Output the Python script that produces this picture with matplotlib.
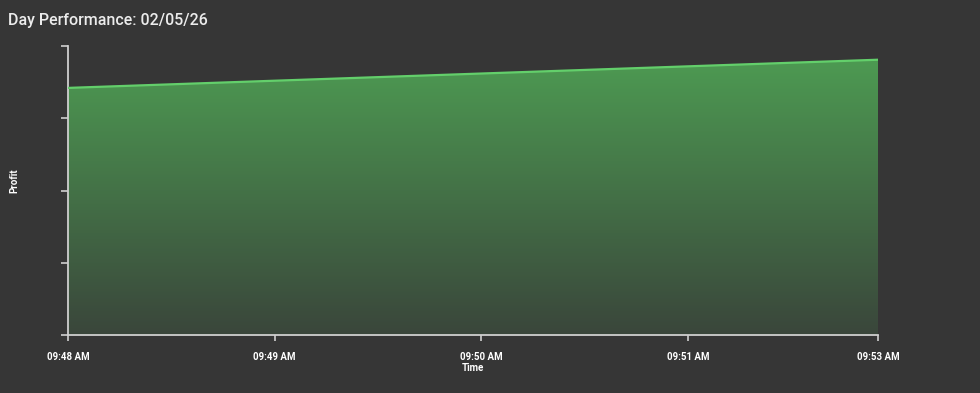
import matplotlib
matplotlib.use("Agg")
import matplotlib.pyplot as plt
import numpy as np
from matplotlib.patches import Polygon
from matplotlib.colors import LinearSegmentedColormap

plt.rcParams['font.family'] = ['Roboto', 'DejaVu Sans']

# Data (minutes after 09:48 AM)
time_minutes = [0.0, 3.92]
profit = [3.42, 3.81]
x_tick_positions = [0, 1, 2, 3, 3.92]
x_tick_labels = ["09:48 AM", "09:49 AM", "09:50 AM", "09:51 AM", "09:53 AM"]
y_ticks = [0, 1, 2, 3, 4]

BG = "#363636"
fig = plt.figure(figsize=(9.8, 3.93), dpi=100, facecolor=BG)
ax = fig.add_axes([68/980, 1-335/393, (878-68)/980, (335-46)/393])
ax.set_facecolor(BG)

x = np.array(time_minutes, dtype=float)
y = np.array(profit)
ax.set_xlim(x[0], x[-1])
ax.set_ylim(0, 4)

# gradient fill under the line
grad = np.linspace(0, 1, 256).reshape(-1, 1)
cmap = LinearSegmentedColormap.from_list("g", ["#3a463b", "#4d9a52"])
im = ax.imshow(grad, extent=[x[0], x[-1], 0, max(y)], origin="lower", aspect="auto",
               cmap=cmap, zorder=1)
poly = Polygon(np.column_stack([np.r_[x, x[::-1]], np.r_[y, [0, 0]]]),
               closed=True, transform=ax.transData, facecolor="none", edgecolor="none")
ax.add_patch(poly)
im.set_clip_path(poly)
ax.plot(x, y, color="#63cf6b", lw=1.6, zorder=3)

ax.set_xticks(x_tick_positions)
ax.set_xticklabels(x_tick_labels, color="white", fontsize=7, fontweight="bold")
ax.set_yticks(y_ticks)
ax.set_yticklabels([])

for s in ["top", "right"]:
    ax.spines[s].set_visible(False)
for s in ["left", "bottom"]:
    ax.spines[s].set_color("#cfcfcf")
    ax.spines[s].set_linewidth(1.3)
ax.tick_params(axis="y", colors="#cfcfcf", length=5, width=1.2)
ax.tick_params(axis="x", colors="#cfcfcf", length=4, width=1.2, pad=8, labelcolor="white")

ax.set_xlabel("Time", color="white", fontsize=7, fontweight="bold", labelpad=1)
fig.text(14/980, 1-181/393, "Profit", rotation=90, color="white", fontsize=7,
         fontweight="bold", ha="center", va="center")
fig.text(8/980, 1-20/393, "Day Performance: 02/05/26", color="#ececec",
         fontsize=11.5, fontweight="medium", ha="left", va="center")

fig.savefig("out.png", dpi=100, facecolor=BG)
